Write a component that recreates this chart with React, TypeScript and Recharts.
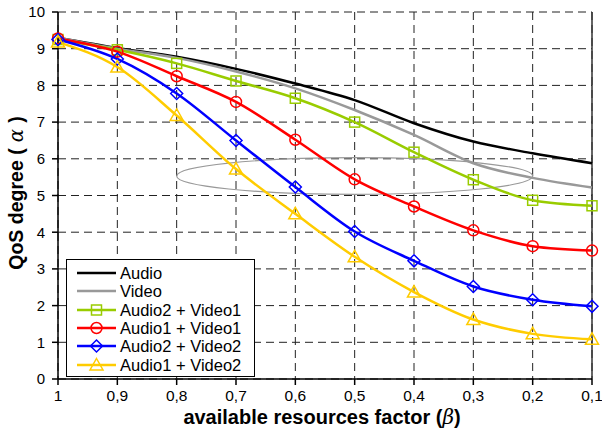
import React from 'react';
import { LineChart, Line, XAxis, YAxis, CartesianGrid, ReferenceLine, ReferenceArea } from 'recharts';

const categories = ['1', '0,9', '0,8', '0,7', '0,6', '0,5', '0,4', '0,3', '0,2', '0,1'];
const audio = [9.3, 9.02, 8.78, 8.45, 8.05, 7.6, 6.97, 6.47, 6.15, 5.88];
const video = [9.3, 9.0, 8.75, 8.38, 7.92, 7.33, 6.65, 5.88, 5.48, 5.22];
const audio2Video1 = [9.25, 8.97, 8.6, 8.12, 7.65, 7.0, 6.18, 5.43, 4.87, 4.72];
const audio1Video1 = [9.28, 8.92, 8.25, 7.55, 6.52, 5.44, 4.7, 4.05, 3.62, 3.5];
const audio2Video2 = [9.25, 8.72, 7.78, 6.5, 5.23, 4.02, 3.22, 2.52, 2.16, 1.98];
const audio1Video2 = [9.18, 8.5, 7.18, 5.72, 4.5, 3.33, 2.37, 1.62, 1.23, 1.08];
const yTicks = [0, 1, 2, 3, 4, 5, 6, 7, 8, 9, 10];

const data = categories.map((c, i) => ({
  x: c,
  audio: audio[i],
  video: video[i],
  a2v1: audio2Video1[i],
  a1v1: audio1Video1[i],
  a2v2: audio2Video2[i],
  a1v2: audio1Video2[i],
}));

const FONT = '"Liberation Sans", Arial, sans-serif';

type Marker = 'square' | 'circle' | 'diamond' | 'triangle' | 'none';

function markerShape(kind: Marker, color: string, cx: number, cy: number, key?: string) {
  const common = { fill: 'none', stroke: color, strokeWidth: 1.5 };
  if (kind === 'square') return <rect key={key} x={cx - 5} y={cy - 5} width={10} height={10} {...common} />;
  if (kind === 'circle') return <circle key={key} cx={cx} cy={cy} r={5.5} {...common} />;
  if (kind === 'diamond')
    return <path key={key} d={`M${cx},${cy - 6}L${cx + 6},${cy}L${cx},${cy + 6}L${cx - 6},${cy}Z`} {...common} />;
  if (kind === 'triangle')
    return <path key={key} d={`M${cx},${cy - 6.5}L${cx + 6.5},${cy + 5}L${cx - 6.5},${cy + 5}Z`} {...common} />;
  return <g key={key} />;
}

const seriesList: { key: string; name: string; color: string; marker: Marker }[] = [
  { key: 'audio', name: 'Audio', color: '#000000', marker: 'none' },
  { key: 'video', name: 'Video', color: '#999999', marker: 'none' },
  { key: 'a2v1', name: 'Audio2 + Video1', color: '#99cc00', marker: 'square' },
  { key: 'a1v1', name: 'Audio1 + Video1', color: '#ff0000', marker: 'circle' },
  { key: 'a2v2', name: 'Audio2 + Video2', color: '#0000ff', marker: 'diamond' },
  { key: 'a1v2', name: 'Audio1 + Video2', color: '#ffcc00', marker: 'triangle' },
];

function LegendBox() {
  return (
    <div
      style={{
        position: 'absolute',
        left: 66,
        top: 259,
        width: 189,
        height: 118,
        border: '1px solid #000',
        background: '#fff',
        fontFamily: FONT,
        fontSize: 16.5,
        color: '#000',
        paddingTop: 4,
        boxSizing: 'border-box',
      }}
    >
      {seriesList.map((s) => (
        <div key={s.key} style={{ display: 'flex', alignItems: 'center', height: 18.3, lineHeight: '18px' }}>
          <svg width={53} height={18} style={{ flex: 'none' }}>
            <line x1={10} y1={9} x2={49} y2={9} stroke={s.color} strokeWidth={2.5} />
            {markerShape(s.marker, s.color, 29.5, 9)}
          </svg>
          <span>{s.name}</span>
        </div>
      ))}
    </div>
  );
}

export default function App() {
  return (
    <div style={{ position: 'absolute', left: 0, top: 0, width: 602, height: 431, background: '#fff' }}>
      <LineChart width={602} height={431} data={data} margin={{ top: 12, right: 10, left: 0, bottom: 0 }}>
        <CartesianGrid stroke="#222" strokeDasharray="8 5" strokeWidth={1} />
        <ReferenceArea
          x1="0,8"
          x2="0,2"
          y1={5.03}
          y2={6.03}
          shape={(p: any) => (
            <ellipse
              cx={p.x + p.width / 2}
              cy={p.y + p.height / 2}
              rx={p.width / 2}
              ry={p.height / 2}
              fill="none"
              stroke="#999"
              strokeWidth={1.2}
            />
          )}
        />
        <XAxis
          dataKey="x"
          stroke="#000"
          strokeWidth={1.5}
          tickSize={6}
          tickMargin={5}
          height={52}
          tick={{ fill: '#000', fontSize: 15.5, fontFamily: FONT }}
          label={{
            content: () => (
              <text x={322} y={424} textAnchor="middle" fontFamily={FONT} fontSize={20} fontWeight="bold" fill="#000">
                available resources factor (
                <tspan fontFamily="'DejaVu Serif', serif" fontStyle="italic" fontWeight="normal">β</tspan>)
              </text>
            ),
          }}
        />
        <YAxis
          domain={[0, 10]}
          ticks={yTicks}
          interval={0}
          width={58}
          stroke="#000"
          strokeWidth={1.5}
          tickSize={6}
          tickMargin={7}
          tick={{ fill: '#000', fontSize: 15, fontFamily: FONT }}
          label={{
            content: () => (
              <text
                x={0}
                y={0}
                transform="translate(23,193) rotate(-90)"
                textAnchor="middle"
                fontFamily={FONT}
                fontSize={19.5}
                fontWeight="bold"
                fill="#000"
              >
                QoS degree (
                <tspan fontFamily="'DejaVu Serif', serif" fontStyle="italic" fontWeight="normal"> α </tspan>)
              </text>
            ),
          }}
        />
        <ReferenceLine x="0,1" stroke="#333" strokeWidth={1.5} />
        {seriesList.map((s) => (
          <Line
            key={s.key}
            type="monotone"
            dataKey={s.key}
            stroke={s.color}
            strokeWidth={2.5}
            isAnimationActive={false}
            dot={
              s.marker === 'none'
                ? false
                : (p: any) => markerShape(s.marker, s.color, p.cx, p.cy, `${s.key}-${p.index}`)
            }
            activeDot={false}
          />
        ))}
      </LineChart>
      <LegendBox />
    </div>
  );
}
